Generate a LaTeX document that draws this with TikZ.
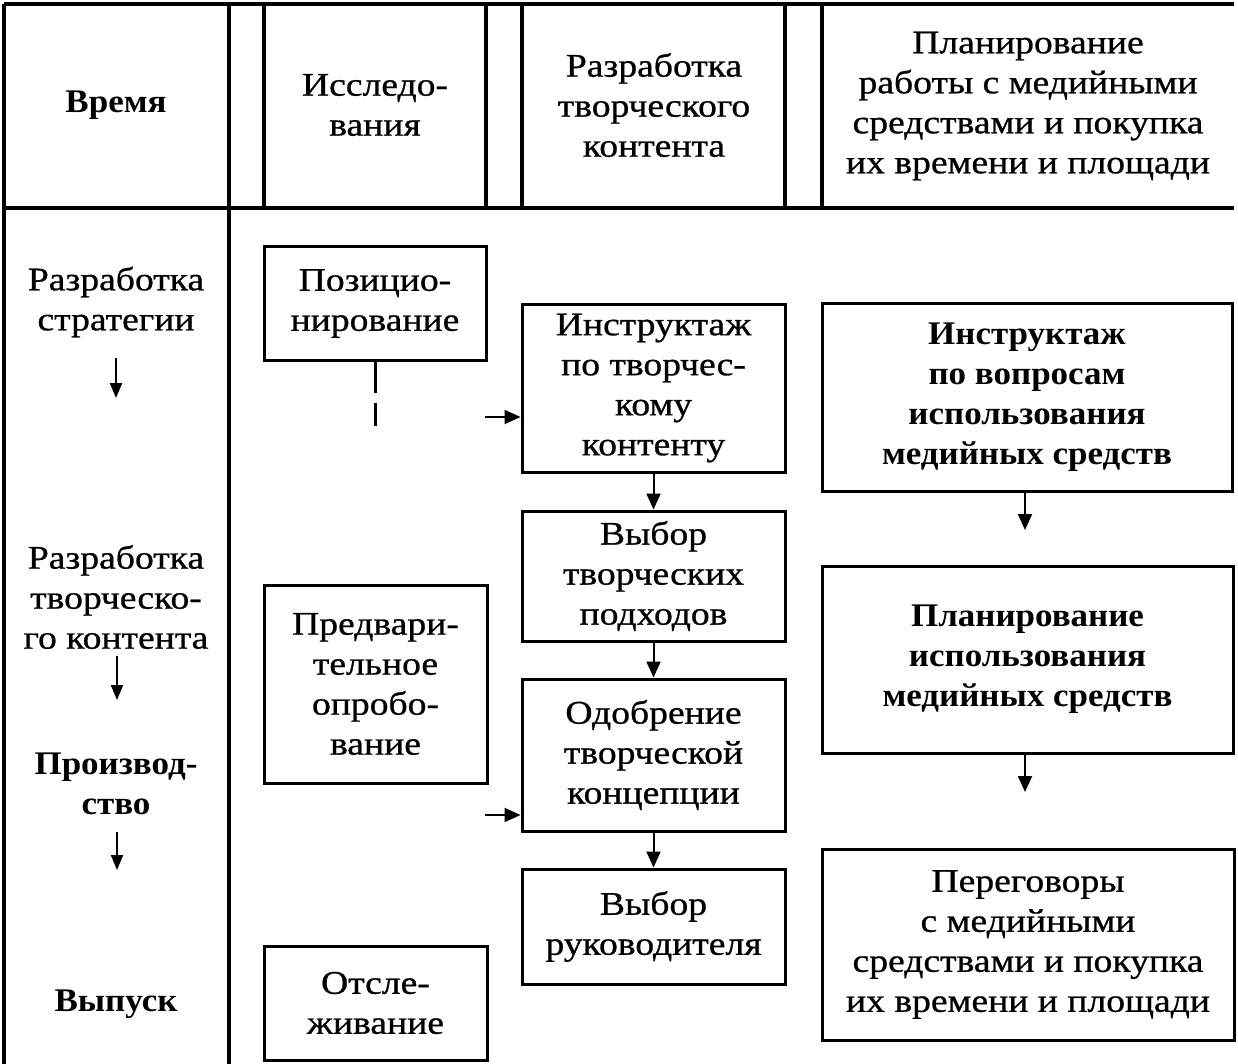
\documentclass[tikz,border=0pt]{standalone}
\usepackage{fontspec}
\setmainfont{Liberation Serif}[FakeStretch=1.14, FakeBold=0.8]
\newfontfamily\heavy{Liberation Serif}[FakeStretch=1.06]
\usetikzlibrary{arrows.meta}
\begin{document}
\begin{tikzpicture}[x=1pt,y=-1pt,
  frame/.style={line width=3.5pt},
  stagebox/.style={draw, line width=3pt, inner sep=0pt, align=center, font=\fontsize{33}{40}\selectfont},
  lbl/.style={inner sep=0pt, align=center, font=\fontsize{33}{40}\selectfont},
  heavytext/.style={font=\fontsize{33}{40}\heavy\bfseries},
  flow/.style={line width=2pt, -{Triangle[width=14pt,length=16pt]}},
  smallflow/.style={line width=2pt, -{Triangle[width=12pt,length=15pt]}},
]
\useasboundingbox (0,0) rectangle (1238,1064);
% table frame
\draw[frame] (4,4) -- (1234,4);
\draw[frame] (4,208) -- (1234,208);
\draw[frame] (4,4) -- (4,1064);
\draw[frame] (229,4) -- (229,1064);
\foreach \xx in {264,486,522,785,822} \draw[frame] (\xx,4) -- (\xx,208);
% header texts
\node[lbl, heavytext] (hTime) at (116,105) {Время};
\node[lbl] (hRes) at (375,105) {Исследо-\\вания};
\node[lbl] (hCre) at (654,105) {Разработка\\творческого\\контента};
\node[lbl] (hMed) at (1028,106) {Планирование\\работы с медийными\\средствами и покупка\\их времени и площади};
% time column
\node[lbl] (tStrat) at (116,302) {Разработка\\стратегии};
\node[lbl] (tCre) at (116,597) {Разработка\\творческо-\\го контента};
\node[lbl, heavytext] (tProd) at (116,784) {Производ-\\ство};
\node[lbl, heavytext] (tRel) at (116,1004) {Выпуск};
\coordinate (ta1) at (116,358); \coordinate (tb1) at (116,398);
\coordinate (ta2) at (117,656); \coordinate (tb2) at (117,700);
\coordinate (ta3) at (117,832); \coordinate (tb3) at (117,870);
\draw[smallflow] (ta1) -- (tb1);
\draw[smallflow] (ta2) -- (tb2);
\draw[smallflow] (ta3) -- (tb3);
% boxes
\node[stagebox, minimum width=222pt, minimum height=113pt] (poz) at (375,303.5) {Позицио-\\нирование};
\node[stagebox, minimum width=223pt, minimum height=198pt] (predv) at (375.5,684) {Предвари-\\тельное\\опробо-\\вание};
\node[stagebox, minimum width=223pt, minimum height=114pt] (otsl) at (375.5,1003) {Отсле-\\живание};
\node[stagebox, minimum width=263pt, minimum height=168pt] (instrC) at (653.5,388) {Инструктаж\\по творчес-\\кому\\контенту};
\node[stagebox, minimum width=263pt, minimum height=130pt] (vybor) at (653.5,576) {Выбор\\творческих\\подходов};
\node[stagebox, minimum width=263pt, minimum height=152pt] (odob) at (653.5,755) {Одобрение\\творческой\\концепции};
\node[stagebox, minimum width=263pt, minimum height=115pt] (ruk) at (653.5,926.5) {Выбор\\руководителя};
\node[stagebox, heavytext, minimum width=410pt, minimum height=188pt] (instrM) at (1027,397) {Инструктаж\\по вопросам\\использования\\медийных средств};
\node[stagebox, heavytext, minimum width=411pt, minimum height=187pt] (plan) at (1027.5,659.5) {Планирование\\использования\\медийных средств};
\node[stagebox, minimum width=412pt, minimum height=191pt] (pereg) at (1028,944.5) {Переговоры\\с медийными\\средствами и покупка\\их времени и площади};
% connectors
\draw[flow] (instrC.south) -- (vybor.north);
\draw[flow] (vybor.south) -- (odob.north);
\draw[flow] (odob.south) -- (ruk.north);
\coordinate (m1) at (1025,530);
\coordinate (m2) at (1025,792);
\draw[flow] (instrM.south -| m1) -- (m1);
\draw[flow] (plan.south -| m2) -- (m2);
\coordinate (h1) at (485,417);
\coordinate (h2) at (485,815);
\draw[flow] (h1) -- (instrC.west |- h1);
\draw[flow] (h2) -- (odob.west |- h2);
\coordinate (d1) at (375,426);
\draw[line width=3pt, dash pattern=on 31pt off 10pt] (poz.south) -- (d1);
\end{tikzpicture}
\end{document}
